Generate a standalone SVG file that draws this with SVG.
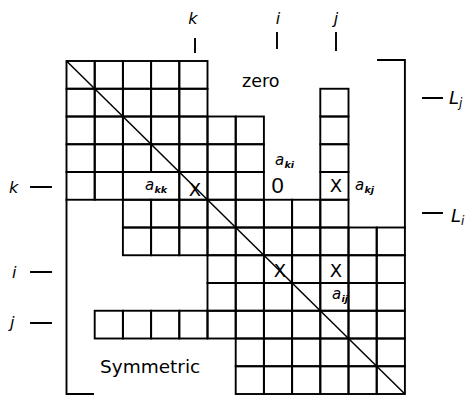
<svg xmlns="http://www.w3.org/2000/svg" width="473" height="399" viewBox="0 0 473 399">
<style>
.c{fill:none;stroke:#000;stroke-width:1.9}
.l{fill:none;stroke:#000;stroke-width:1.9;stroke-linecap:square}
.t{font-family:"DejaVu Sans",sans-serif;fill:#000}
.it{font-family:"DejaVu Sans",sans-serif;font-style:italic;fill:#000}
.x{font-family:"DejaVu Sans",sans-serif;font-size:18px;fill:#000;text-anchor:middle}
.a{font-family:"DejaVu Sans",sans-serif;font-style:italic;font-size:15px;fill:#000}
.s{font-family:"DejaVu Sans",sans-serif;font-style:italic;font-weight:bold;font-size:9.5px;fill:#000}
</style>
<rect width="473" height="399" fill="#fff"/>
<g id="grid">
<!-- row 1 -->
<rect class="c" x="66.5" y="61" width="28.2" height="27.75"/>
<rect class="c" x="94.7" y="61" width="28.2" height="27.75"/>
<rect class="c" x="122.9" y="61" width="28.2" height="27.75"/>
<rect class="c" x="151.1" y="61" width="28.2" height="27.75"/>
<rect class="c" x="179.3" y="61" width="28.2" height="27.75"/>
<!-- row 2 -->
<rect class="c" x="66.5" y="88.75" width="28.2" height="27.75"/>
<rect class="c" x="94.7" y="88.75" width="28.2" height="27.75"/>
<rect class="c" x="122.9" y="88.75" width="28.2" height="27.75"/>
<rect class="c" x="151.1" y="88.75" width="28.2" height="27.75"/>
<rect class="c" x="179.3" y="88.75" width="28.2" height="27.75"/>
<rect class="c" x="320.3" y="88.75" width="28.2" height="27.75"/>
<!-- row 3 -->
<rect class="c" x="66.5" y="116.5" width="28.2" height="27.75"/>
<rect class="c" x="94.7" y="116.5" width="28.2" height="27.75"/>
<rect class="c" x="122.9" y="116.5" width="28.2" height="27.75"/>
<rect class="c" x="151.1" y="116.5" width="28.2" height="27.75"/>
<rect class="c" x="179.3" y="116.5" width="28.2" height="27.75"/>
<rect class="c" x="207.5" y="116.5" width="28.2" height="27.75"/>
<rect class="c" x="235.7" y="116.5" width="28.2" height="27.75"/>
<rect class="c" x="320.3" y="116.5" width="28.2" height="27.75"/>
<!-- row 4 -->
<rect class="c" x="66.5" y="144.25" width="28.2" height="27.75"/>
<rect class="c" x="94.7" y="144.25" width="28.2" height="27.75"/>
<rect class="c" x="122.9" y="144.25" width="28.2" height="27.75"/>
<rect class="c" x="151.1" y="144.25" width="28.2" height="27.75"/>
<rect class="c" x="179.3" y="144.25" width="28.2" height="27.75"/>
<rect class="c" x="207.5" y="144.25" width="28.2" height="27.75"/>
<rect class="c" x="235.7" y="144.25" width="28.2" height="27.75"/>
<rect class="c" x="320.3" y="144.25" width="28.2" height="27.75"/>
<!-- row 5 -->
<rect class="c" x="66.5" y="172" width="28.2" height="27.75"/>
<rect class="c" x="94.7" y="172" width="28.2" height="27.75"/>
<rect class="c" x="122.9" y="172" width="56.4" height="27.75"/>
<rect class="c" x="179.3" y="172" width="28.2" height="27.75"/>
<rect class="c" x="207.5" y="172" width="28.2" height="27.75"/>
<rect class="c" x="235.7" y="172" width="28.2" height="27.75"/>
<rect class="c" x="320.3" y="172" width="28.2" height="27.75"/>
<!-- row 6 -->
<rect class="c" x="122.9" y="199.75" width="28.2" height="27.75"/>
<rect class="c" x="151.1" y="199.75" width="28.2" height="27.75"/>
<rect class="c" x="179.3" y="199.75" width="28.2" height="27.75"/>
<rect class="c" x="207.5" y="199.75" width="28.2" height="27.75"/>
<rect class="c" x="235.7" y="199.75" width="28.2" height="27.75"/>
<rect class="c" x="263.9" y="199.75" width="28.2" height="27.75"/>
<rect class="c" x="292.1" y="199.75" width="28.2" height="27.75"/>
<rect class="c" x="320.3" y="199.75" width="28.2" height="27.75"/>
<!-- row 7 -->
<rect class="c" x="122.9" y="227.5" width="28.2" height="27.75"/>
<rect class="c" x="151.1" y="227.5" width="28.2" height="27.75"/>
<rect class="c" x="179.3" y="227.5" width="28.2" height="27.75"/>
<rect class="c" x="207.5" y="227.5" width="28.2" height="27.75"/>
<rect class="c" x="235.7" y="227.5" width="28.2" height="27.75"/>
<rect class="c" x="263.9" y="227.5" width="28.2" height="27.75"/>
<rect class="c" x="292.1" y="227.5" width="28.2" height="27.75"/>
<rect class="c" x="320.3" y="227.5" width="28.2" height="27.75"/>
<rect class="c" x="348.5" y="227.5" width="28.2" height="27.75"/>
<rect class="c" x="376.7" y="227.5" width="28.2" height="27.75"/>
<!-- row 8 -->
<rect class="c" x="207.5" y="255.25" width="28.2" height="27.75"/>
<rect class="c" x="235.7" y="255.25" width="28.2" height="27.75"/>
<rect class="c" x="263.9" y="255.25" width="28.2" height="27.75"/>
<rect class="c" x="292.1" y="255.25" width="28.2" height="27.75"/>
<rect class="c" x="320.3" y="255.25" width="28.2" height="27.75"/>
<rect class="c" x="348.5" y="255.25" width="28.2" height="27.75"/>
<rect class="c" x="376.7" y="255.25" width="28.2" height="27.75"/>
<!-- row 9 -->
<rect class="c" x="207.5" y="283" width="28.2" height="27.75"/>
<rect class="c" x="235.7" y="283" width="28.2" height="27.75"/>
<rect class="c" x="263.9" y="283" width="28.2" height="27.75"/>
<rect class="c" x="292.1" y="283" width="28.2" height="27.75"/>
<rect class="c" x="320.3" y="283" width="28.2" height="27.75"/>
<rect class="c" x="348.5" y="283" width="28.2" height="27.75"/>
<rect class="c" x="376.7" y="283" width="28.2" height="27.75"/>
<!-- row 10 -->
<rect class="c" x="94.7" y="310.75" width="28.2" height="27.75"/>
<rect class="c" x="122.9" y="310.75" width="28.2" height="27.75"/>
<rect class="c" x="151.1" y="310.75" width="28.2" height="27.75"/>
<rect class="c" x="179.3" y="310.75" width="28.2" height="27.75"/>
<rect class="c" x="207.5" y="310.75" width="28.2" height="27.75"/>
<rect class="c" x="235.7" y="310.75" width="28.2" height="27.75"/>
<rect class="c" x="263.9" y="310.75" width="28.2" height="27.75"/>
<rect class="c" x="292.1" y="310.75" width="28.2" height="27.75"/>
<rect class="c" x="320.3" y="310.75" width="28.2" height="27.75"/>
<rect class="c" x="348.5" y="310.75" width="28.2" height="27.75"/>
<rect class="c" x="376.7" y="310.75" width="28.2" height="27.75"/>
<!-- row 11 -->
<rect class="c" x="235.7" y="338.5" width="28.2" height="27.75"/>
<rect class="c" x="263.9" y="338.5" width="28.2" height="27.75"/>
<rect class="c" x="292.1" y="338.5" width="28.2" height="27.75"/>
<rect class="c" x="320.3" y="338.5" width="28.2" height="27.75"/>
<rect class="c" x="348.5" y="338.5" width="28.2" height="27.75"/>
<rect class="c" x="376.7" y="338.5" width="28.2" height="27.75"/>
<!-- row 12 -->
<rect class="c" x="235.7" y="366.25" width="28.2" height="27.75"/>
<rect class="c" x="263.9" y="366.25" width="28.2" height="27.75"/>
<rect class="c" x="292.1" y="366.25" width="28.2" height="27.75"/>
<rect class="c" x="320.3" y="366.25" width="28.2" height="27.75"/>
<rect class="c" x="348.5" y="366.25" width="28.2" height="27.75"/>
<rect class="c" x="376.7" y="366.25" width="28.2" height="27.75"/>
</g>
<g id="lines">
<line x1="66.5" y1="61" x2="404.9" y2="394" stroke="#000" stroke-width="1.5"/>
<path class="l" d="M66.5 199.75 V394 H93"/>
<path class="l" d="M378 60 H404.9 V227.5"/>
<path class="l" d="M195 39 V52 M277 33 V48 M336 33 V50"/>
<path class="l" d="M31 187 H51 M31 272 H51 M31 323 H51"/>
<path class="l" d="M423 98 H442 M423 213 H442"/>
</g>
<g id="labels">
<text class="it" x="193" y="24" font-size="16" text-anchor="middle">k</text>
<text class="it" x="278" y="24" font-size="16" text-anchor="middle">i</text>
<text class="it" x="336" y="24" font-size="16" text-anchor="middle">j</text>
<text class="it" x="9" y="193" font-size="16">k</text>
<text class="it" x="12" y="278" font-size="16">i</text>
<text class="it" x="10" y="328" font-size="16">j</text>
<text class="it" x="449" y="104" font-size="18">L<tspan font-size="12" dy="3">j</tspan></text>
<text class="it" x="451" y="222" font-size="18">L<tspan font-size="12" dy="3">i</tspan></text>
<text class="t" x="242" y="87" font-size="17.5">zero</text>
<text class="t" x="100" y="373" font-size="18.5">Symmetric</text>
<text class="t" x="277.5" y="193" font-size="22" text-anchor="middle" style="font-family:'Liberation Sans',sans-serif">0</text>
<text class="x" x="195" y="195.5">X</text>
<text class="x" x="336" y="191.5">X</text>
<text class="x" x="280" y="276.5">X</text>
<text class="x" x="336" y="276.5">X</text>
<text class="a" x="145" y="190">a</text><text class="s" x="154.5" y="193">kk</text>
<text class="a" x="275" y="165">a</text><text class="s" x="284.5" y="168">ki</text>
<text class="a" x="355" y="190">a</text><text class="s" x="364.5" y="193">kj</text>
<text class="a" x="332" y="299">a</text><text class="s" x="341.5" y="302">ij</text>
</g>
</svg>
